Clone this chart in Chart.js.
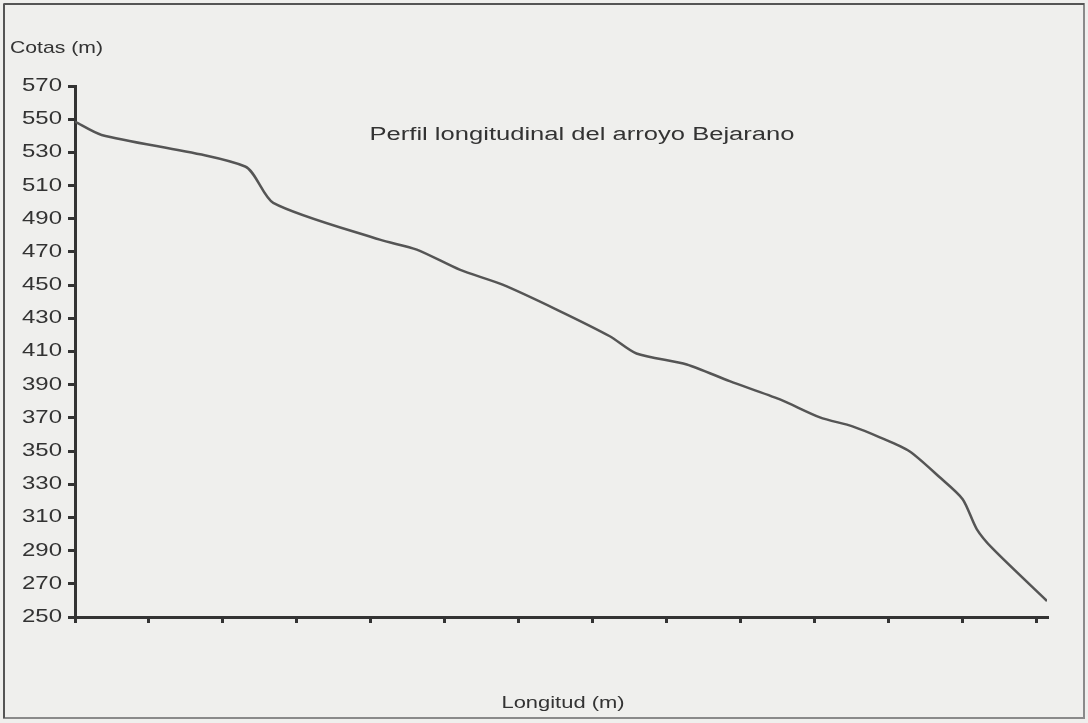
<!DOCTYPE html>
<html>
<head>
<meta charset="utf-8">
<title>Perfil longitudinal del arroyo Bejarano</title>
<script src="https://cdn.jsdelivr.net/npm/chart.js@4/dist/chart.umd.min.js"></script>
<style>
  html, body { margin: 0; padding: 0; background: #efefed; }
  #contenedor { width: 1088px; height: 723px; }
</style>
</head>
<body>
<div id="contenedor"><canvas id="perfil-chart"></canvas></div>
<script>
// datos (longitud en m, cota en m)
const longitud = [0, 180, 1150, 1340, 2060, 2310, 2600, 2890, 3255, 3615, 3795, 4135,
  4425, 4765, 5035, 5255, 5440, 5640, 5845, 6000, 6095, 6205, 6570];
const cotas = [548.5, 540.5, 521.5, 499.6, 477.4, 471.4, 459.3, 450.3, 435.3, 419.2, 408.8, 402.2,
  392.1, 381.1, 370.3, 364.9, 358.3, 349.9, 334.2, 321, 303, 291, 259.6];
const marcasX = [0, 500, 1000, 1500, 2000, 2500, 3000, 3500, 4000, 4500, 5000, 5500, 6000, 6500];
const cotaMin = 250;
const cotaMax = 570;
const pasoCota = 20;
const titulo = "Perfil longitudinal del arroyo Bejarano";
const tituloY = "Cotas (m)";
const tituloX = "Longitud (m)";

const colorTexto = "#333";
const colorEje = "#333";

// dibuja un texto estirado en horizontal hasta un ancho dado
function textoAjustado(ctx, txt, x, y, size, ancho, align) {
  ctx.save();
  ctx.font = size + 'px "Liberation Sans", Arial, sans-serif';
  const w = ctx.measureText(txt).width;
  ctx.translate(x, y);
  ctx.scale(ancho / w, 1);
  ctx.textAlign = align;
  ctx.textBaseline = "middle";
  ctx.fillStyle = colorTexto;
  ctx.fillText(txt, 0, 0);
  ctx.restore();
}

const textos = {
  id: "textos",
  beforeDraw(chart) {
    const ctx = chart.ctx;
    ctx.save();
    ctx.fillStyle = "#efefed";
    ctx.fillRect(0, 0, chart.width, chart.height);
    // marco
    ctx.strokeStyle = "#8a8a8a";
    ctx.lineWidth = 2;
    ctx.strokeRect(4, 4, 1080, 714);
    ctx.strokeStyle = "#555";
    ctx.beginPath();
    ctx.moveTo(4, 4); ctx.lineTo(1084, 4);
    ctx.moveTo(4, 4); ctx.lineTo(4, 718);
    ctx.stroke();
    ctx.restore();
  },
  afterDraw(chart) {
    const ctx = chart.ctx;
    const y = chart.scales.y;
    y.ticks.forEach(t => {
      textoAjustado(ctx, String(t.value), 62, y.getPixelForValue(t.value), 18, 40, "right");
    });
    textoAjustado(ctx, tituloY, 10, 48, 17, 93, "left");
    textoAjustado(ctx, titulo, 582, 135, 18, 425, "center");
    textoAjustado(ctx, tituloX, 563, 703, 17, 123, "center");
  }
};

const ctxPerfil = document.querySelector("#perfil-chart").getContext("2d");
const perfilChart = new Chart(ctxPerfil, {
  type: "line",
  data: {
    datasets: [{
      label: titulo,
      data: longitud.map((x, i) => ({ x: x, y: cotas[i] })),
      borderColor: "#555",
      borderWidth: 2.5,
      pointRadius: 0,
      tension: 0.25,
      fill: false,
    }],
  },
  options: {
    responsive: true,
    maintainAspectRatio: false,
    animation: false,
    layout: { padding: { top: 86, right: 41, left: 0, bottom: 0 } },
    plugins: {
      legend: { display: false },
      tooltip: { enabled: false },
    },
    scales: {
      x: {
        type: "linear",
        min: 0,
        max: longitud[longitud.length - 1],
        afterBuildTicks(scale) {
          scale.ticks = marcasX.map(v => ({ value: v }));
        },
        afterFit(scale) { scale.height = 106; },
        ticks: { autoSkip: false, callback: () => " " },
        grid: { drawOnChartArea: false, drawTicks: true, tickLength: 6, color: colorEje, lineWidth: 3 },
        border: { color: colorEje, width: 3 },
      },
      y: {
        min: cotaMin,
        max: cotaMax,
        afterFit(scale) { scale.width = 75; },
        ticks: { stepSize: pasoCota, display: false },
        grid: { drawOnChartArea: false, drawTicks: true, tickLength: 7, color: colorEje, lineWidth: 3 },
        border: { color: colorEje, width: 3 },
      },
    },
  },
  plugins: [textos],
});
</script>
</body>
</html>
